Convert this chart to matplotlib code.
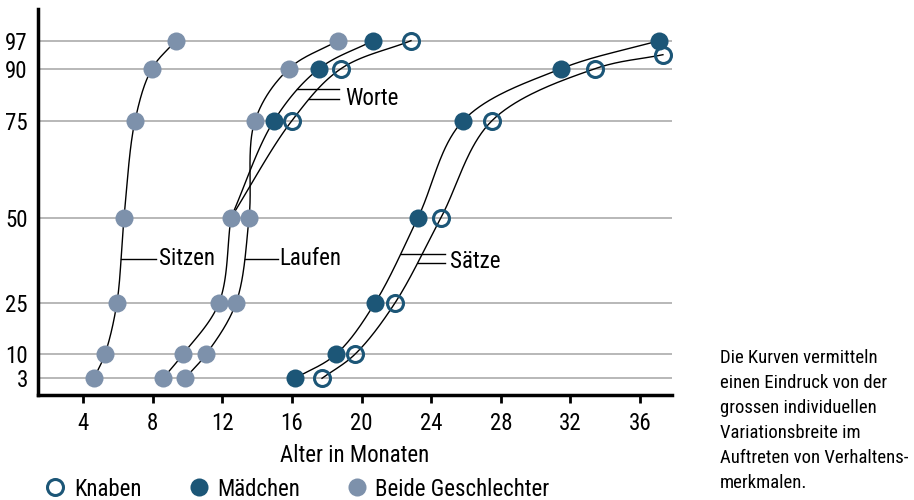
import numpy as np
import matplotlib
matplotlib.use("Agg")
import matplotlib.pyplot as plt
from matplotlib import font_manager
from matplotlib.lines import Line2D

# pick a narrow font if one is installed
fonts = font_manager.fontManager.ttflist
names = {f.name for f in fonts}
narrow = [f for f in fonts if str(f.stretch) in ("condensed", "semi-condensed", "extra-condensed")
          or "Narrow" in f.name or "Condensed" in f.name]
stretch = "normal"
if "Liberation Sans Narrow" in names:
    font = "Liberation Sans Narrow"
elif "Roboto Condensed" in names:
    font = "Roboto Condensed"
elif narrow:
    font = narrow[0].name
    stretch = narrow[0].stretch
else:
    font = "Roboto"
plt.rcParams["font.family"] = font
plt.rcParams["font.stretch"] = stretch

# percent levels on the y axis
levels = [3, 10, 25, 50, 75, 90, 97]

# Sitzen (beide Geschlechter)
sitzen_x = [4.63, 5.26, 5.95, 6.36, 6.99, 7.96, 9.34]
sitzen_y = [3, 10, 25, 50, 75, 90, 97]

# Laufen (beide Geschlechter)
laufen_x = [9.86, 11.07, 12.79, 13.54, 13.88, 15.83, 18.65]
laufen_y = [3, 10, 25, 50, 75, 90, 97]

# Worte, unterer Teil (beide) und oberer Teil nach Geschlecht
worte_x = [8.6, 9.74, 11.81, 12.5]
worte_y = [3, 10, 25, 50]
worte_m_x = [12.5, 14.97, 17.56, 20.66]
worte_m_y = [50, 75, 90, 97]
worte_k_x = [12.5, 16.0, 18.82, 22.84]
worte_k_y = [50, 75, 90, 97]

# Sätze
saetze_m_x = [16.18, 18.53, 20.77, 23.24, 25.83, 31.46, 37.08]
saetze_m_y = [3, 10, 25, 50, 75, 90, 97]
saetze_k_x = [17.73, 19.62, 21.92, 24.56, 27.49, 33.41, 37.31]
saetze_k_y = [3, 10, 25, 50, 75, 90, 93.5]

# nonlinear y scale (position of each level in pixels)
p_anchor = np.array([0, 3, 10, 25, 50, 75, 90, 97, 100])
pos_anchor = np.array([-16.7, 0, 24, 75.3, 160.6, 257.6, 309.6, 337.6, 369])


def yfwd(p):
    return np.interp(p, p_anchor, pos_anchor)


def yinv(v):
    return np.interp(v, pos_anchor, p_anchor)


XS = 17.41  # px per month, only to shape the spline


def smooth(xm, yp, n=40):
    P = np.column_stack([np.asarray(xm) * XS, yfwd(np.asarray(yp, float))])
    P = np.vstack([2 * P[0] - P[1], P, 2 * P[-1] - P[-2]])
    out = []
    for i in range(1, len(P) - 2):
        p0, p1, p2, p3 = P[i - 1:i + 3]
        t0 = 0.0
        t1 = t0 + np.linalg.norm(p1 - p0) ** 0.5
        t2 = t1 + np.linalg.norm(p2 - p1) ** 0.5
        t3 = t2 + np.linalg.norm(p3 - p2) ** 0.5
        t = np.linspace(t1, t2, n)[:, None]
        a1 = (t1 - t) / (t1 - t0) * p0 + (t - t0) / (t1 - t0) * p1
        a2 = (t2 - t) / (t2 - t1) * p1 + (t - t1) / (t2 - t1) * p2
        a3 = (t3 - t) / (t3 - t2) * p2 + (t - t2) / (t3 - t2) * p3
        b1 = (t2 - t) / (t2 - t0) * a1 + (t - t0) / (t2 - t0) * a2
        b2 = (t3 - t) / (t3 - t1) * a2 + (t - t1) / (t3 - t1) * a3
        out.append((t2 - t) / (t2 - t1) * b1 + (t - t1) / (t2 - t1) * b2)
    c = np.vstack(out)
    return c[:, 0] / XS, yinv(c[:, 1])


navy = "#1c5677"
grey = "#7d91ab"

fig = plt.figure(figsize=(9.14, 5.0), dpi=100)
ax = fig.add_axes([37.5 / 914, 1 - 395 / 500, (672 - 37.5) / 914, (395 - 9.3) / 500])
ax.set_yscale("function", functions=(yfwd, yinv))
ax.set_ylim(0, 100)
ax.set_xlim(1.39, 37.83)

for lv in levels:
    ax.axhline(lv, color="#ababab", lw=1.2, zorder=1)

curves = {}
series = [
    ("sitzen", sitzen_x, sitzen_y, "b"),
    ("laufen", laufen_x, laufen_y, "b"),
    ("worte", worte_x, worte_y, "b"),
    ("worte_m", worte_m_x, worte_m_y, "m"),
    ("worte_k", worte_k_x, worte_k_y, "k"),
    ("saetze_m", saetze_m_x, saetze_m_y, "m"),
    ("saetze_k", saetze_k_x, saetze_k_y, "k"),
]
for name, xs, ys, kind in series:
    sx, sy = smooth(xs, ys)
    curves[name] = (sx, sy)
    ax.plot(sx, sy, color="black", lw=1.0, zorder=2)

ms = 13
for name, xs, ys, kind in series:
    if name.startswith("worte_"):
        xs, ys = xs[1:], ys[1:]
    if kind == "b":
        ax.plot(xs, ys, "o", ms=ms, color=grey, mec="none", zorder=3)
    elif kind == "m":
        ax.plot(xs, ys, "o", ms=ms, color=navy, mec="none", zorder=3)
    else:
        ax.plot(xs, ys, "o", ms=ms - 1.5, mfc="none", mec=navy, mew=2.2, zorder=3)


def leader(name, p, x_end):
    sx, sy = curves[name]
    x0 = np.interp(yfwd(p), yfwd(sy), sx)
    ax.plot([x0, x_end], [p, p], color="black", lw=1.0, zorder=2)


fs = 16.5
leader("sitzen", 37.9, 8.19)
ax.text(8.38, 37.9, "Sitzen", fontsize=fs, va="center")
leader("laufen", 37.9, 15.2)
ax.text(15.3, 37.9, "Laufen", fontsize=fs, va="center")
leader("saetze_m", 39.4, 24.8)
leader("saetze_k", 36.7, 24.8)
ax.text(25.1, 37.2, "Sätze", fontsize=fs, va="center")
leader("worte_m", 84.1, 18.7)
leader("worte_k", 81.3, 18.7)
ax.text(19.05, 81.5, "Worte", fontsize=fs, va="center")

ax.set_yticks(levels)
ax.set_yticklabels([str(v) for v in levels])
ax.set_xticks([4, 8, 12, 16, 20, 24, 28, 32, 36])
ax.tick_params(axis="y", length=0, pad=7, labelsize=fs)
ax.tick_params(axis="x", length=6, width=2, pad=6, labelsize=fs, direction="out")
ax.set_xlabel("Alter in Monaten", fontsize=fs, labelpad=7)
for s in ["top", "right"]:
    ax.spines[s].set_visible(False)
ax.spines["left"].set_linewidth(2.5)
ax.spines["bottom"].set_linewidth(2.5)

handles = [
    Line2D([], [], ls="none", marker="o", ms=ms - 1.5, mfc="none", mec=navy, mew=2.2),
    Line2D([], [], ls="none", marker="o", ms=ms, color=navy, mec="none"),
    Line2D([], [], ls="none", marker="o", ms=ms, color=grey, mec="none"),
]
fig.legend(handles, ["Knaben", "Mädchen", "Beide Geschlechter"], loc="center left",
           bbox_to_anchor=(44 / 914, 1 - 489 / 500), ncol=3, frameon=False,
           fontsize=fs, handlelength=1.0, handletextpad=0.3, columnspacing=2.0,
           borderpad=0, borderaxespad=0)

fig.text(720 / 914, 1 - 349 / 500,
         "Die Kurven vermitteln\neinen Eindruck von der\ngrossen individuellen\n"
         "Variationsbreite im\nAuftreten von Verhaltens-\nmerkmalen.",
         fontsize=13.5, va="top", ha="left", linespacing=1.5)

fig.savefig("out.png", dpi=100)
